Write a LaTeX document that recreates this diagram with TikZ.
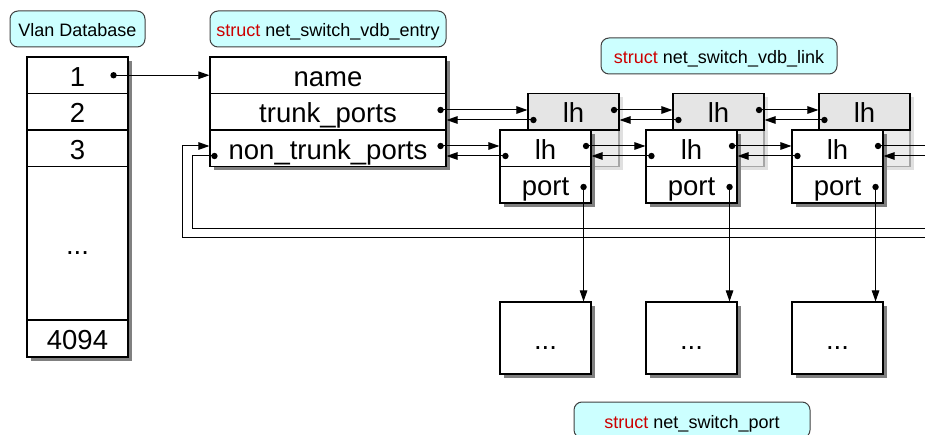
\documentclass[tikz,border=0pt]{standalone}
\usepackage{fontspec}
\setmainfont{Liberation Sans}
\usetikzlibrary{calc,shadows,arrows.meta}
\definecolor{tagfill}{RGB}{204,255,255}
\definecolor{kwred}{RGB}{204,0,0}
\newcommand\cellfont{\fontsize{27.5}{30}\selectfont}
\newcommand\tagfont{\fontsize{18}{21}\selectfont}
\begin{document}
\begin{tikzpicture}[x=1pt,y=-1pt,
  cellbase/.style={draw, fill=white, line width=1.1pt, inner sep=0pt,
    font=\cellfont, text height=24pt, text depth=1.5pt},
  darkshadow/.style={drop shadow={shadow xshift=4pt, shadow yshift=-4pt,
    fill=black!50, opacity=1}},
  lightshadow/.style={drop shadow={shadow xshift=4pt, shadow yshift=-4pt,
    fill=black!12, opacity=1}},
  tabcell/.style={cellbase, darkshadow, minimum width=101pt, minimum height=36.5pt},
  entrycell/.style={cellbase, darkshadow, minimum width=236pt, minimum height=36.5pt},
  linkcell/.style={cellbase, darkshadow, minimum width=91pt, minimum height=36.5pt},
  backgroup/.style={cellbase, lightshadow, fill=black!8, draw=black!35,
    minimum width=91pt, minimum height=73pt},
  backtop/.style={cellbase, fill=black!10, minimum width=91pt, minimum height=36.5pt},
  portbox/.style={cellbase, darkshadow, minimum width=91pt, minimum height=72pt},
  tag/.style={draw=black!75, fill=tagfill, rounded corners=8pt, line width=1pt,
    font=\tagfont, text height=17pt, text depth=1pt, inner sep=0pt,
    minimum height=36pt},
  ln/.style={line width=1pt},
  arr/.style={line width=1pt, -{Triangle[length=11pt,width=7.5pt]}},
  dot/.style={fill=black}
]
% page
\fill[white] (0,0) rectangle (925,435);
\useasboundingbox (0,0) rectangle (925,435);

% captions
\node[tag, minimum width=135pt] (capvlan) at (77.5,29) {Vlan Database};
\node[tag, minimum width=236pt] (capentry) at (328,29)
  {{\color{kwred}struct} net\_switch\_vdb\_entry};
\node[tag, minimum width=236pt] (caplink) at (719,56)
  {{\color{kwred}struct} net\_switch\_vdb\_link};
\node[tag, minimum width=236pt] (capport) at (692,420)
  {{\color{kwred}struct} net\_switch\_port};

% vlan table
\node[tabcell] (v1) at (77.5,75.25) {1};
\node[tabcell] (v2) at (77.5,111.75) {2};
\node[tabcell] (v3) at (77.5,148.25) {3};
\node[tabcell, minimum height=153.5pt] (vdots) at (77.5,243.25) {...};
\node[tabcell, minimum height=37pt] (v4094) at (77.5,338.5) {4094};

% vdb entry
\node[entrycell] (name) at (328,75.25) {name};
\node[entrycell] (trunk) at (328,111.75) {trunk\_ports};
\node[entrycell] (ntrunk) at (328,148.25) {non\_trunk\_ports};

% vdb links: trunk list behind, non-trunk list in front, ports below
\foreach \i/\fx/\bx in {1/545.5/573.5, 2/691.5/718.5, 3/837.5/864.5} {
  \node[backgroup] (bg\i) at (\bx,130) {};
  \node[backtop] (bk\i) at (\bx,111.75) {lh};
}
\foreach \i/\fx in {1/545.5, 2/691.5, 3/837.5} {
  \node[linkcell] (f\i) at (\fx,148.25) {lh};
  \node[linkcell] (p\i) at (\fx,184.75) {port};
  \node[portbox] (o\i) at (\fx,338) {...};
}

% pointer origins
\coordinate (vd) at ($(v1.east)+(-15,0)$);
\coordinate (td) at ($(trunk.east)+(-6,-1.75)$);
\coordinate (ntr) at ($(ntrunk.east)+(-6,-2.25)$);
\coordinate (ntl) at ($(ntrunk.west)+(5,7.75)$);
\foreach \i in {1,2,3} {
  \coordinate (bk\i r) at ($(bk\i.east)+(-5.5,-1.75)$);
  \coordinate (bk\i l) at ($(bk\i.west)+(6,8.25)$);
  \coordinate (f\i r) at ($(f\i.east)+(-5.5,-2.25)$);
  \coordinate (f\i l) at ($(f\i.west)+(6,7.75)$);
  \coordinate (p\i d) at ($(p\i.east)+(-8,2.25)$);
}
\coordinate (loopin) at (192,229);
\coordinate (loopout) at (182,238);
\coordinate (rimin) at (930,229);
\coordinate (rimout) at (930,238);

% vlan 1 -> entry
\draw[arr] (vd) -- (vd -| name.west);

% trunk list
\draw[arr] (td) -- (td -| bk1.west);
\draw[arr] (bk1l) -- (bk1l -| trunk.east);
\draw[arr] (bk1r) -- (bk1r -| bk2.west);
\draw[arr] (bk2l) -- (bk2l -| bk1.east);
\draw[arr] (bk2r) -- (bk2r -| bk3.west);
\draw[arr] (bk3l) -- (bk3l -| bk2.east);

% non-trunk list
\draw[arr] (ntr) -- (ntr -| f1.west);
\draw[arr] (f1l) -- (f1l -| ntrunk.east);
\draw[arr] (f1r) -- (f1r -| f2.west);
\draw[arr] (f2l) -- (f2l -| f1.east);
\draw[arr] (f2r) -- (f2r -| f3.west);
\draw[arr] (f3l) -- (f3l -| f2.east);
\draw[ln] (f3r) -- (f3r -| rimin);
\draw[arr] (rimin |- f3l) -- (f3l -| f3.east);

% list wrap-around
\draw[ln] (ntl) -| (loopin) -- (rimin);
\draw[arr] (rimout) -- (loopout) |- (ntrunk.west |- ntr);

% ports
\foreach \i in {1,2,3} {
  \draw[arr] (p\i d) -- (p\i d |- o\i.north);
}

% dots
\foreach \c in {vd,td,ntr,ntl,bk1r,bk1l,bk2r,bk2l,bk3l,f1r,f1l,f2r,f2l,f3r,f3l,p1d,p2d,p3d}
  \fill[dot] (\c) circle[radius=3.2pt];
\end{tikzpicture}
\end{document}
